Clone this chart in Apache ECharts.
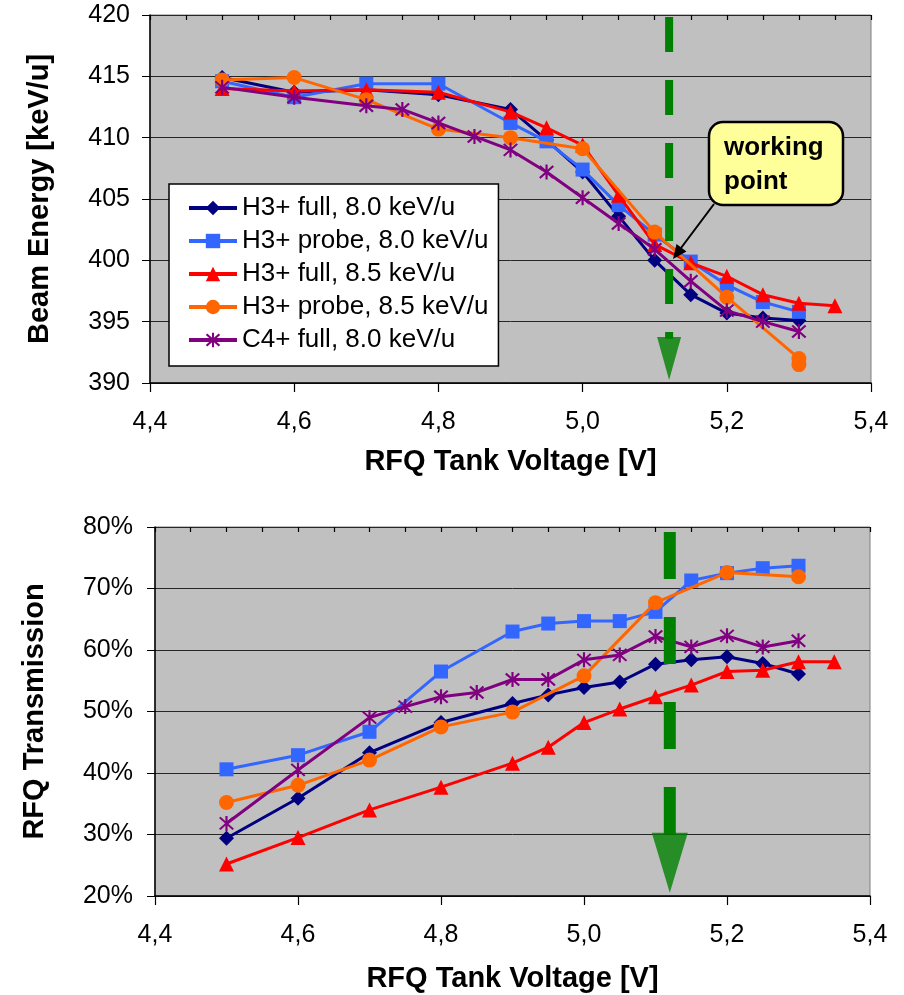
<!DOCTYPE html>
<html>
<head>
<meta charset="utf-8">
<script src="https://cdn.jsdelivr.net/npm/echarts@6/dist/echarts.min.js"></script>
<style>
    html, body { margin: 0; padding: 0; background: #fff; }
    #chart { width: 904px; height: 995px; }
</style>
</head>
<body>
<div id="chart"></div>
<script>
    // RFQ tank voltage points [V]
    const voltsMain = [4.5, 4.6, 4.7, 4.8, 4.9, 4.95, 5.0, 5.05, 5.1, 5.15, 5.2, 5.25, 5.3]
    const voltsRed = [4.5, 4.6, 4.7, 4.8, 4.9, 4.95, 5.0, 5.05, 5.1, 5.15, 5.2, 5.25, 5.3, 5.35]
    const voltsOrangeE = [4.5, 4.6, 4.7, 4.8, 4.9, 5.0, 5.1, 5.2, 5.3, 5.3]
    const voltsOrangeT = [4.5, 4.6, 4.7, 4.8, 4.9, 5.0, 5.1, 5.2, 5.3]
    const voltsPurple = [4.5, 4.6, 4.7, 4.75, 4.8, 4.85, 4.9, 4.95, 5.0, 5.05, 5.1, 5.15, 5.2, 5.25, 5.3]

    // beam energy [keV/u]
    const energyH3Full80 = [414.9, 413.7, 413.9, 413.5, 412.3, 409.8, 407.2, 403.6, 400.0, 397.2, 395.7, 395.3, 395.1]
    const energyH3Probe80 = [414.6, 413.3, 414.4, 414.4, 411.2, 409.7, 407.4, 404.5, 402.1, 399.9, 398.0, 396.6, 395.8]
    const energyH3Full85 = [414.0, 413.8, 413.9, 413.7, 412.1, 410.8, 409.4, 405.3, 401.3, 399.8, 398.7, 397.2, 396.5, 396.3]
    const energyH3Probe85 = [414.7, 414.9, 413.1, 410.7, 410.0, 409.1, 402.3, 397.0, 392.0, 391.5]
    const energyC4Full80 = [414.1, 413.3, 412.6, 412.3, 411.2, 410.1, 409.0, 407.2, 405.1, 403.0, 400.9, 398.3, 395.9, 395.0, 394.2]

    // RFQ transmission [%]
    const transH3Full80 = [29.4, 35.9, 43.3, 48.2, 51.3, 52.7, 53.9, 54.8, 57.7, 58.4, 58.9, 57.8, 56.1]
    const transH3Probe80 = [40.6, 42.9, 46.7, 56.5, 63.0, 64.3, 64.7, 64.7, 66.2, 71.3, 72.5, 73.3, 73.7]
    const transH3Full85 = [25.2, 29.5, 34.0, 37.7, 41.6, 44.2, 48.2, 50.4, 52.4, 54.3, 56.5, 56.7, 58.1, 58.1]
    const transH3Probe85 = [35.2, 38.0, 42.1, 47.5, 49.9, 55.8, 67.7, 72.6, 71.9]
    const transC4Full80 = [31.8, 40.5, 49.0, 50.8, 52.4, 53.1, 55.2, 55.2, 58.4, 59.2, 62.2, 60.5, 62.3, 60.5, 61.5]

    const seriesNames = ['H3+ full, 8.0 keV/u', 'H3+ probe, 8.0 keV/u', 'H3+ full, 8.5 keV/u', 'H3+ probe, 8.5 keV/u', 'C4+ full, 8.0 keV/u']
    const xTicks = [4.4, 4.6, 4.8, 5.0, 5.2, 5.4]
    const workingPoint = 5.12

    const FONT = '"Liberation Sans", Arial, sans-serif'
    // Excel style star marker (vertical bar + X)
    const STAR = 'path://M8.7,0L11.3,0L11.3,20L8.7,20Z M1.08,2.92L2.92,1.08L18.92,17.08L17.08,18.92Z M17.08,1.08L18.92,2.92L2.92,18.92L1.08,17.08Z'
    const styles = [
        { color: '#000080', symbol: 'diamond', size: 15 },
        { color: '#3366FF', symbol: 'rect', size: 14 },
        { color: '#FF0000', symbol: 'triangle', size: 15 },
        { color: '#FF6600', symbol: 'circle', size: 15 },
        { color: '#800080', symbol: STAR, size: 15 }
    ]

    const pairs = (xs, ys) => xs.map((x, i) => [x, ys[i]])

    function makeSeries(sets, xIdx, yIdx) {
        return sets.map((d, i) => ({
            name: seriesNames[i],
            type: 'line',
            xAxisIndex: xIdx,
            yAxisIndex: yIdx,
            data: pairs(d[0], d[1]),
            symbol: styles[i].symbol,
            symbolSize: styles[i].size,
            showAllSymbol: true,
            lineStyle: { color: styles[i].color, width: 3 },
            itemStyle: { color: styles[i].color, borderWidth: 0 },
            z: 2 + i
        }))
    }

    const topSets = [
        [voltsMain, energyH3Full80],
        [voltsMain, energyH3Probe80],
        [voltsRed, energyH3Full85],
        [voltsOrangeE, energyH3Probe85],
        [voltsPurple, energyC4Full80]
    ]
    const bottomSets = [
        [voltsMain, transH3Full80],
        [voltsMain, transH3Probe80],
        [voltsRed, transH3Full85],
        [voltsOrangeT, transH3Probe85],
        [voltsPurple, transC4Full80]
    ]

    function labelAxis(gridIdx, gap) {
        return {
            gridIndex: gridIdx,
            type: 'value',
            min: xTicks[0],
            max: xTicks[xTicks.length - 1],
            interval: 0.2,
            axisLine: { show: true, lineStyle: { color: '#000', width: 1.5 } },
            axisTick: { show: true, inside: false, length: 9, lineStyle: { color: '#000', width: 1.2 } },
            axisLabel: {
                color: '#000', fontSize: 25, fontFamily: FONT, margin: 27,
                formatter: (v) => v.toFixed(1).replace('.', ',')
            },
            splitLine: { show: false },
            name: 'RFQ Tank Voltage [V]',
            nameLocation: 'middle',
            nameGap: gap,
            nameTextStyle: { color: '#000', fontSize: 29, fontWeight: 'bold', fontFamily: FONT }
        }
    }
    function minorAxis(gridIdx) {
        return {
            gridIndex: gridIdx,
            type: 'value',
            min: xTicks[0],
            max: xTicks[xTicks.length - 1],
            interval: 0.05,
            axisLine: { show: false },
            axisTick: { show: true, inside: true, length: 5, lineStyle: { color: '#000', width: 1.2 } },
            axisLabel: { show: false },
            splitLine: { show: false }
        }
    }

    // working point marker: dashed green line ending in an arrow head
    function workingMarker(xIdx, yIdx, yTop, yEnd, yHead, width, dash, offset, head) {
        return [
            {
                type: 'line',
                xAxisIndex: xIdx,
                yAxisIndex: yIdx,
                data: [[workingPoint, yTop], [workingPoint, yEnd]],
                symbol: 'none',
                silent: true,
                lineStyle: { color: '#008000', width: width, type: dash, dashOffset: offset, cap: 'butt' },
                z: 10
            },
            {
                type: 'scatter',
                xAxisIndex: xIdx,
                yAxisIndex: yIdx,
                data: [[workingPoint, yHead]],
                symbol: 'triangle',
                symbolRotate: 180,
                symbolSize: head,
                silent: true,
                itemStyle: { color: '#008000' },
                z: 10
            }
        ]
    }

    const chart = echarts.init(document.getElementById('chart'))
    const option = {
        animation: false,
        backgroundColor: '#fff',
        textStyle: { fontFamily: FONT },
        grid: [
            { left: 150, top: 15, width: 721, height: 368, show: true, backgroundColor: '#C0C0C0', borderColor: '#808080', borderWidth: 1 },
            { left: 155, top: 527, width: 715, height: 369, show: true, backgroundColor: '#C0C0C0', borderColor: '#808080', borderWidth: 1 }
        ],
        legend: {
            data: seriesNames,
            orient: 'vertical',
            left: 169,
            top: 184,
            selectedMode: false,
            backgroundColor: '#fff',
            borderColor: '#000',
            borderWidth: 1.5,
            padding: [10, 10, 12, 18],
            itemWidth: 48,
            itemHeight: 18,
            itemGap: 5,
            lineStyle: { width: 4 },
            textStyle: { color: '#000', fontSize: 26, fontFamily: FONT, lineHeight: 28 }
        },
        xAxis: [labelAxis(0, 64), minorAxis(0), labelAxis(1, 68), minorAxis(1)],
        yAxis: [
            {
                gridIndex: 0,
                type: 'value',
                min: 390, max: 420, interval: 5,
                axisLine: { show: true, lineStyle: { color: '#000', width: 1.5 } },
                axisTick: { show: true, length: 8, lineStyle: { color: '#000' } },
                axisLabel: { color: '#000', fontSize: 25, fontFamily: FONT, margin: 20 },
                splitLine: { show: true, lineStyle: { color: '#262626', width: 1 } },
                name: 'Beam Energy [keV/u]',
                nameLocation: 'middle',
                nameGap: 96,
                nameTextStyle: { color: '#000', fontSize: 29, fontWeight: 'bold', fontFamily: FONT }
            },
            {
                gridIndex: 1,
                type: 'value',
                min: 20, max: 80, interval: 10,
                axisLine: { show: true, lineStyle: { color: '#000', width: 1.5 } },
                axisTick: { show: true, length: 8, lineStyle: { color: '#000' } },
                axisLabel: { color: '#000', fontSize: 25, fontFamily: FONT, margin: 22, formatter: '{value}%' },
                splitLine: { show: true, lineStyle: { color: '#262626', width: 1 } },
                name: 'RFQ Transmission',
                nameLocation: 'middle',
                nameGap: 106,
                nameTextStyle: { color: '#000', fontSize: 29, fontWeight: 'bold', fontFamily: FONT }
            }
        ],
        series: [
            ...makeSeries(topSets, 0, 0),
            ...makeSeries(bottomSets, 2, 1),
            ...workingMarker(0, 0, 420, 393.6, 392.0, 8, [35, 28], 61, [24, 43]),
            ...workingMarker(2, 1, 80, 29.9, 25.4, 12, [47, 38], 80, [36, 60])
        ],
        graphic: [
            {
                type: 'rect',
                shape: { x: 709, y: 122, width: 134, height: 83, r: 14 },
                style: { fill: '#FFFF99', stroke: '#000', lineWidth: 2.5 },
                z: 20
            },
            {
                type: 'text',
                x: 724,
                y: 131,
                style: {
                    text: 'working\npoint',
                    font: 'bold 26px ' + FONT,
                    fill: '#000',
                    lineHeight: 34
                },
                z: 21
            },
            {
                type: 'line',
                shape: { x1: 714, y1: 204, x2: 681, y2: 248 },
                style: { stroke: '#000', lineWidth: 2 },
                z: 20
            },
            {
                type: 'polygon',
                shape: { points: [[673, 259], [686.5, 251.5], [676.5, 244]] },
                style: { fill: '#000' },
                z: 20
            }
        ]
    }
    chart.setOption(option)
</script>
</body>
</html>
